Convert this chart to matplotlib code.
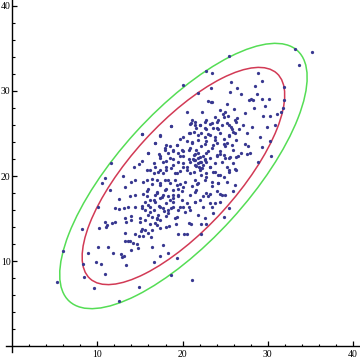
import matplotlib
matplotlib.use('Agg')
import matplotlib.pyplot as plt
from matplotlib.patches import Ellipse

# scatter points, data units
xs = [
    # upper right
    33.2, 33.7, 35.2, 25.4, 22.8, 23.5, 21.8, 28.8, 29.3, 25.7, 28.5, 26.4, 23.3, 31.9, 25.6, 26.9,
    28.7, 30.1, 28.0, 28.3, 27.8, 29.3, 23.0, 23.3, 23.4, 25.2, 31.9, 31.8, 29.7, 28.4, 27.3, 26.0,
    24.4, 25.0, 22.3, 20.5, 31.1, 29.4, 30.3, 31.5, 24.7, 25.3, 24.8, 26.2, 26.4, 23.8, 24.2, 22.8,
    21.1, 21.0, 21.5, 22.1, 22.6, 23.4, 24.0, 24.1, 25.4, 25.8, 26.6, 27.1, 28.1, 29.9, 30.8,
    20.1, 18.7,
    # upper left / middle
    15.3, 17.4, 18.1, 18.5, 19.3, 16.8, 16.0, 17.2, 17.9, 18.3, 18.9, 19.5, 19.9, 17.4, 18.1, 18.9,
    19.5, 20.0, 11.6, 15.3, 14.9, 14.3, 13.0, 10.9, 10.6, 11.5, 13.2, 13.9, 14.4, 16.2, 16.8, 16.6,
    17.4, 17.7, 18.1, 18.7, 19.1, 19.7, 20.1, 15.8, 16.4, 16.0, 17.0, 17.4, 17.9, 18.5, 19.1, 19.7,
    18.1, 18.9, 19.5, 20.1, 12.6, 13.8, 14.4, 15.4, 15.8, 16.2, 16.8, 17.4, 17.0, 17.7, 18.3, 18.9,
    19.5, 19.9, 10.1, 12.1, 12.6, 13.1, 13.6, 14.4, 15.2, 15.6, 16.2, 16.6, 17.2, 17.7, 18.3, 18.9,
    19.5, 20.1, 13.2, 14.0, 15.0, 16.0, 17.0, 18.1, 19.1,
    # core
    18.7, 20.9, 21.4, 22.0, 22.6, 23.2, 24.0, 24.6, 25.2, 25.7, 26.3, 23.6, 22.8, 21.6, 21.3,
    15.2, 17.3, 19.7, 20.1, 20.9, 22.2, 22.6, 23.2, 23.8, 24.4, 24.8, 25.4, 25.9, 26.3, 19.3, 20.5,
    21.1, 21.8, 22.8, 24.0, 25.2, 16.8,
    17.9, 18.9, 20.1, 20.9, 21.6, 22.2, 22.8, 23.4, 24.4, 25.0, 25.9, 16.0, 17.3, 18.5, 19.7, 21.3,
    21.8, 22.4, 23.2, 24.0, 24.8, 25.5, 26.5,
    16.6, 17.7, 18.9, 20.1, 20.9, 21.4, 21.8, 22.2, 22.4, 22.8, 23.2, 23.8, 24.6, 25.2, 25.9, 15.8,
    17.1, 18.1, 19.3, 20.5, 21.3, 22.0, 22.8, 23.6, 24.4, 25.4, 26.3,
    21.2, 21.6, 22.0, 22.6, 21.9, 22.3, 21.5, 20.7,
    15.4, 16.4, 17.3, 18.3, 19.3, 20.3, 21.1, 21.8, 22.6, 23.4, 24.2, 25.2, 26.1, 15.8, 17.0, 17.9,
    18.9, 19.9, 20.9, 21.6, 22.8, 24.0, 25.0, 25.9,
    15.6, 16.6, 17.3, 18.1, 18.9, 19.7, 20.5, 21.4, 22.4, 23.2, 24.4, 25.4, 16.2, 17.1, 18.3, 19.3,
    20.3, 21.8, 23.6, 24.8,
    16.0, 16.8, 17.6, 18.5, 17.8, 16.4, 15.2, 17.0, 18.7, 19.5,
    # right of core
    30.2, 29.3, 30.4, 29.1, 27.5, 27.3, 27.7, 26.8, 27.5, 27.9, 26.3, 28.8, 25.0, 25.6, 24.4, 25.4,
    26.2, 24.2, 24.8, 23.4, 24.2, 24.4, 24.6, 23.2, 23.0, 22.0, 22.4, 23.8, 23.5, 22.6, 20.7, 20.9,
    21.5, 21.5, 21.7,
    20.7, 21.8, 23.0, 23.8, 25.4, 26.1, 21.1, 22.6, 23.6, 24.8, 25.8, 20.7, 21.8, 23.0, 24.0, 21.3,
    22.0, 22.6, 20.5, 21.5, 22.0, 23.2, 23.8, 20.9, 22.2, 22.8, 21.5,
    # lower left
    6.0, 8.2, 8.3, 8.5, 9.6, 12.5, 14.9, 18.7, 8.9, 10.1, 11.3, 11.8, 9.8, 10.4, 10.9, 12.8,
    13.1, 12.9, 13.4, 13.9, 14.8, 16.4, 17.4, 16.7, 18.3, 19.4, 17.7, 13.2, 13.8, 13.6, 14.2, 14.6,
    13.2, 15.4, 15.9, 16.3, 15.2, 15.6, 14.4, 14.9, 17.0, 17.4, 18.1, 18.4, 19.2, 19.5, 20.2, 10.9,
    11.7, 12.1, 10.2, 11.1, 11.0, 13.4, 14.0, 15.0, 15.6, 16.2, 16.8, 17.4, 15.1, 16.4,
    # lower right and outliers
    20.7, 21.0, 22.2, 22.7, 20.5, 22.2, 21.1, 5.3,
]
ys = [
    34.9, 33.0, 34.6, 34.1, 32.4, 32.1, 29.8, 32.1, 31.2, 31.0, 30.6, 30.3, 30.3, 30.5, 29.9, 29.6,
    29.6, 29.1, 29.0, 28.9, 28.9, 29.1, 28.8, 28.7, 28.7, 28.5, 28.9, 28.0, 28.2, 28.0, 27.4, 27.9,
    27.8, 27.5, 27.5, 27.5, 27.3, 27.1, 27.1, 27.5, 27.3, 27.1, 26.9, 26.6, 26.8, 26.9, 26.6, 26.6,
    26.6, 26.2, 26.0, 26.0, 25.7, 26.2, 25.7, 25.5, 26.0, 25.5, 25.5, 26.0, 25.8, 25.8, 26.0,
    30.7, 25.9,
    24.9, 24.7, 23.6, 23.5, 23.6, 23.9, 22.7, 22.6, 23.0, 22.7, 22.9, 22.7, 23.1, 22.1, 21.8, 22.0,
    21.7, 22.3, 21.5, 21.8, 21.4, 21.0, 20.0, 19.8, 19.2, 18.3, 18.7, 19.3, 19.5, 20.7, 21.1, 20.3,
    20.7, 20.3, 21.1, 20.9, 20.3, 20.6, 21.1, 19.5, 19.1, 18.5, 19.5, 18.9, 19.5, 19.2, 19.5, 19.1,
    18.5, 18.3, 18.5, 18.7, 17.3, 17.6, 17.8, 17.9, 17.6, 17.2, 17.8, 17.4, 18.1, 17.8, 17.6, 17.4,
    17.8, 17.2, 16.3, 16.2, 16.1, 16.2, 16.3, 16.4, 16.5, 16.0, 16.4, 16.0, 16.5, 16.2, 16.0, 16.4,
    16.0, 16.3, 15.1, 15.3, 15.1, 15.4, 15.1, 15.3, 15.1,
    25.9, 26.1, 26.4, 26.0, 26.3, 26.1, 26.4, 26.0, 26.2, 25.8, 26.4, 25.6, 25.5, 25.6, 25.2,
    24.9, 24.8, 24.4, 24.6, 25.0, 25.0, 24.6, 24.8, 24.2, 25.0, 24.4, 24.8, 25.2, 24.2, 23.7, 24.1,
    23.9, 24.2, 24.1, 23.9, 23.9, 23.9,
    23.3, 23.1, 22.9, 23.3, 23.1, 23.5, 22.7, 23.3, 22.9, 23.5, 23.1, 22.7, 22.3, 22.1, 22.3, 22.5,
    22.1, 22.3, 22.1, 22.3, 22.5, 22.1, 22.3,
    21.5, 21.7, 21.3, 21.5, 21.7, 21.9, 21.5, 21.7, 21.3, 21.6, 21.1, 21.5, 21.7, 21.1, 21.5, 20.7,
    20.5, 20.7, 20.3, 20.7, 20.5, 20.7, 20.3, 20.5, 20.1, 20.5, 20.7,
    22.0, 21.2, 22.2, 21.9, 21.0, 20.9, 22.6, 22.0,
    19.35, 19.7, 19.15, 19.55, 18.95, 19.35, 18.8, 19.15, 19.55, 18.8, 19.15, 19.35, 18.95, 18.2,
    18.0, 18.4, 17.8, 18.2, 17.8, 18.4, 18.0, 18.2, 17.8, 18.2,
    17.0, 17.2, 16.4, 16.8, 17.0, 16.4, 16.8, 17.0, 16.4, 16.8, 17.0, 16.2, 15.8, 15.4, 15.6, 15.2,
    15.8, 15.4, 15.6, 15.2,
    16.6, 16.9, 17.5, 17.2, 15.9, 15.2, 16.2, 14.9, 16.2, 17.6,
    24.1, 23.4, 22.3, 24.6, 25.0, 23.8, 23.5, 22.7, 22.6, 22.7, 22.2, 21.7, 22.1, 22.2, 22.6, 20.7,
    20.8, 20.1, 19.9, 19.3, 19.2, 17.9, 17.8, 17.9, 17.6, 17.2, 17.6, 16.8, 16.3, 15.1, 16.4, 16.0,
    17.0, 18.1, 19.1,
    25.0, 24.8, 24.9, 24.6, 24.7, 25.0, 24.0, 23.8, 23.6, 23.8, 23.6, 23.0, 22.7, 22.9, 22.5, 21.9,
    21.7, 22.0, 21.1, 21.3, 20.9, 21.0, 20.5, 20.3, 20.1, 19.9, 19.5,
    11.2, 13.8, 9.6, 8.1, 6.8, 5.3, 7.0, 8.4, 10.9, 11.6, 11.7, 11.0, 9.9, 9.7, 8.5, 10.8,
    10.6, 10.5, 9.5, 11.3, 11.5, 11.7, 10.6, 9.9, 10.9, 10.4, 11.9, 13.3, 12.4, 12.3, 12.1, 12.0,
    12.3, 13.0, 13.3, 12.8, 13.8, 13.7, 13.2, 12.9, 14.2, 13.9, 14.0, 14.1, 14.3, 13.2, 13.2, 14.6,
    14.5, 14.6, 13.9, 14.2, 14.0, 14.6, 14.8, 14.6, 14.8, 14.3, 14.5, 14.8, 13.5, 13.7,
    14.5, 14.3, 14.4, 14.4, 13.2, 13.2, 7.8, 7.5,
]

# ellipses: centre, semi axes, angle of major axis (degrees)
centre = (20.1, 20.0)
ell_axes = [(16.3, 6.2), (19.9, 7.6)]
ell_angle = 47.8
ell_colors = ['#d23a55', '#55dd55']

major_ticks = [10, 20, 30, 40]
minor_ticks = [t for t in range(2, 41, 2) if t % 10 != 0]

fig = plt.figure(figsize=(3.6, 3.62), dpi=100)
ax = fig.add_axes([6 / 360, 10 / 362, 354 / 360, 352 / 362])

n = min(len(xs), len(ys))
ax.scatter(xs[:n], ys[:n], s=5.5, color='#383890', linewidths=0, zorder=3)

for (a, b), c in zip(ell_axes, ell_colors):
    ax.add_patch(Ellipse(centre, 2 * a, 2 * b, angle=ell_angle, fill=False,
                         edgecolor=c, linewidth=1.1, zorder=2))

ax.set_xlim(-0.7, 40.8)
ax.set_ylim(-0.7, 40.7)
for side in ['top', 'right']:
    ax.spines[side].set_visible(False)
for side in ['left', 'bottom']:
    ax.spines[side].set_position(('data', 0))
    ax.spines[side].set_linewidth(1.0)

ax.set_xticks(major_ticks)
ax.set_yticks(major_ticks)
ax.set_xticks(minor_ticks, minor=True)
ax.set_yticks(minor_ticks, minor=True)
ax.tick_params(which='major', direction='in', length=3.5, width=0.9,
               labelsize=7, pad=1)
ax.tick_params(which='minor', direction='in', length=1.8, width=0.8)
ax.tick_params(axis='x', which='major', pad=2.5)
for lab in ax.get_xticklabels() + ax.get_yticklabels():
    lab.set_fontfamily('Liberation Serif')

fig.savefig('out.png', dpi=100)
